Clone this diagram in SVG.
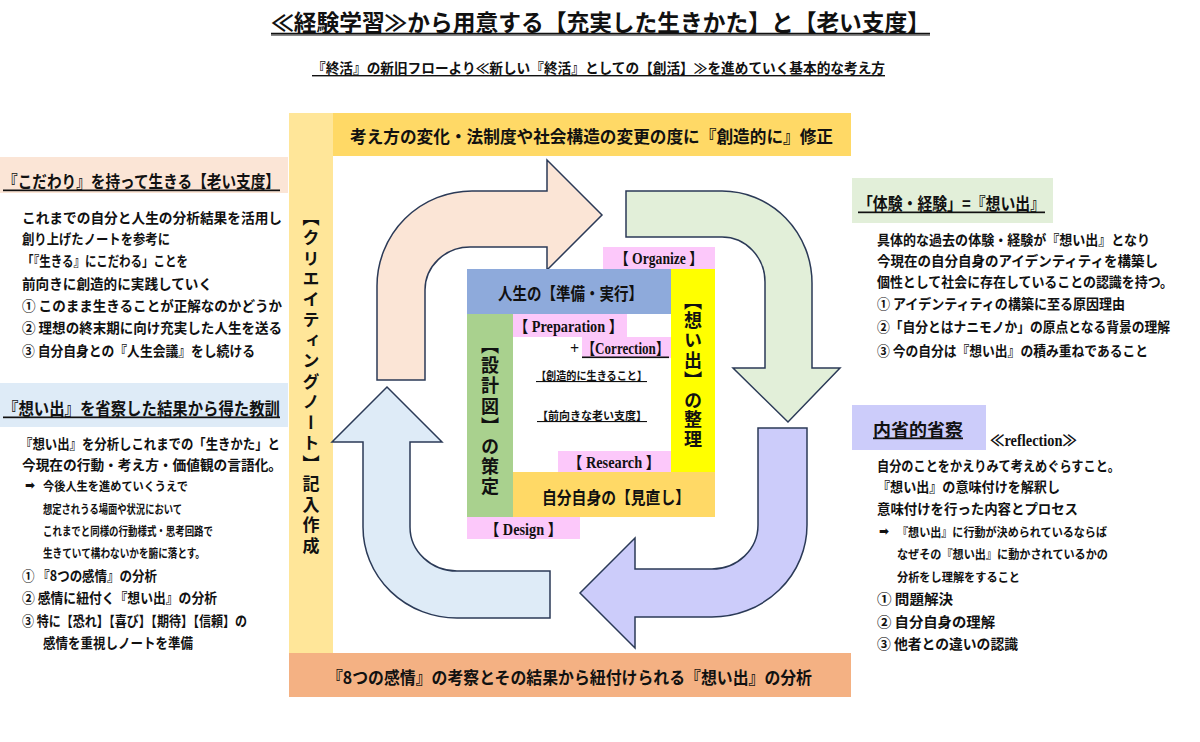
<svg xmlns="http://www.w3.org/2000/svg" width="1200" height="742" viewBox="0 0 1200 742">
<style>
text{font-family:"Noto Sans CJK JP","Noto Sans",sans-serif;fill:#111;dominant-baseline:central;font-weight:bold}
.b{font-size:14px}
.s{font-size:12px}
.h{font-size:17px;text-decoration:underline}
.lat{font-family:"Liberation Serif","Noto Sans CJK JP",serif;font-size:16px}
.v{writing-mode:vertical-rl}
.arrow{stroke:#2b3a57;stroke-width:1.5;stroke-linejoin:miter}
.pink{fill:#fcc8fa}
</style>
<rect width="1200" height="742" fill="#ffffff"/>

<g id="title">
<text x="271" y="21" font-size="23" textLength="659" lengthAdjust="spacingAndGlyphs">≪経験学習≫から用意する【充実した生きかた】と【老い支度】</text>
<line x1="271" y1="35" x2="930" y2="35" stroke="#888" stroke-width="2"/>
<line x1="271" y1="33.5" x2="930" y2="33.5" stroke="#111" stroke-width="1.5"/>
<text x="312" y="67" font-size="14" textLength="573" lengthAdjust="spacingAndGlyphs" style="text-decoration:underline">『終活』の新旧フローより≪新しい『終活』としての【創活】≫を進めていく基本的な考え方</text>
</g>

<g id="note-column">
<rect x="289" y="113" width="44" height="540" fill="#ffe699"/>
<text class="v" x="311" y="383" font-size="17" text-anchor="middle" letter-spacing="3.5">【クリエイティングノート】記入作成</text>
</g>

<g id="top-banner">
<rect x="333" y="113" width="518" height="43" fill="#ffd966"/>
<text x="350" y="135" font-size="17" textLength="483" lengthAdjust="spacingAndGlyphs">考え方の変化・法制度や社会構造の変更の度に『創造的に』修正</text>
</g>

<g id="bottom-banner">
<rect x="289" y="653" width="562" height="44" fill="#f4b183"/>
<text x="327" y="676" font-size="17" textLength="485" lengthAdjust="spacingAndGlyphs">『8つの感情』の考察とその結果から紐付けられる『想い出』の分析</text>
</g>

<g id="left-top">
<rect x="0" y="157" width="288" height="36" fill="#fbe5d6"/>
<text class="h" x="3" y="180" textLength="277" lengthAdjust="spacingAndGlyphs">『こだわり』を持って生きる【老い支度】</text>
<text class="b" x="22" y="217" textLength="260" lengthAdjust="spacingAndGlyphs">これまでの自分と人生の分析結果を活用し</text>
<text class="b" x="22" y="238" textLength="148" lengthAdjust="spacingAndGlyphs">創り上げたノートを参考に</text>
<text class="b" x="22" y="260" textLength="166" lengthAdjust="spacingAndGlyphs">「『生きる』にこだわる」ことを</text>
<text class="b" x="22" y="283" textLength="190" lengthAdjust="spacingAndGlyphs">前向きに創造的に実践していく</text>
<text class="b" x="22" y="305" textLength="260" lengthAdjust="spacingAndGlyphs">① このまま生きることが正解なのかどうか</text>
<text class="b" x="22" y="327" textLength="260" lengthAdjust="spacingAndGlyphs">② 理想の終末期に向け充実した人生を送る</text>
<text class="b" x="22" y="350" textLength="233" lengthAdjust="spacingAndGlyphs">③ 自分自身との『人生会議』をし続ける</text>
</g>

<g id="left-bottom">
<rect x="0" y="383" width="288" height="44" fill="#deebf7"/>
<text class="h" x="3" y="407" textLength="277" lengthAdjust="spacingAndGlyphs">『想い出』を省察した結果から得た教訓</text>
<text class="b" x="20" y="443" textLength="260" lengthAdjust="spacingAndGlyphs">『想い出』を分析しこれまでの「生きかた」と</text>
<text class="b" x="22" y="464" textLength="260" lengthAdjust="spacingAndGlyphs">今現在の行動・考え方・価値観の言語化。</text>
<text class="s" x="25" y="485" style="font-family:'DejaVu Sans',sans-serif">➡</text>
<text class="s" x="43" y="485" textLength="145" lengthAdjust="spacingAndGlyphs">今後人生を進めていくうえで</text>
<text class="s" x="43" y="508" textLength="139" lengthAdjust="spacingAndGlyphs">想定されうる場面や状況において</text>
<text class="s" x="43" y="530" textLength="170" lengthAdjust="spacingAndGlyphs">これまでと同様の行動様式・思考回路で</text>
<text class="s" x="43" y="552" textLength="162" lengthAdjust="spacingAndGlyphs">生きていて構わないかを腑に落とす。</text>
<text class="b" x="22" y="575" font-size="13" textLength="135" lengthAdjust="spacingAndGlyphs">① 『8つの感情』の分析</text>
<text class="b" x="22" y="597" font-size="13" textLength="195" lengthAdjust="spacingAndGlyphs">② 感情に紐付く『想い出』の分析</text>
<text class="b" x="22" y="620" font-size="13" textLength="225" lengthAdjust="spacingAndGlyphs">③ 特に【恐れ】【喜び】【期待】【信頼】の</text>
<text class="b" x="43" y="642" font-size="13" textLength="150" lengthAdjust="spacingAndGlyphs">感情を重視しノートを準備</text>
</g>

<g id="right-top">
<rect x="852" y="178" width="201" height="45" fill="#e2efd9"/>
<text class="h" x="858" y="202" textLength="187" lengthAdjust="spacingAndGlyphs">「体験・経験」=『想い出』</text>
<text class="b" x="877" y="239" textLength="273" lengthAdjust="spacingAndGlyphs">具体的な過去の体験・経験が『想い出』となり</text>
<text class="b" x="877" y="260" textLength="281" lengthAdjust="spacingAndGlyphs">今現在の自分自身のアイデンティティを構築し</text>
<text class="b" x="877" y="281" textLength="296" lengthAdjust="spacingAndGlyphs">個性として社会に存在していることの認識を持つ。</text>
<text class="b" x="877" y="303" textLength="248" lengthAdjust="spacingAndGlyphs">① アイデンティティの構築に至る原因理由</text>
<text class="b" x="877" y="326" textLength="293" lengthAdjust="spacingAndGlyphs">②「自分とはナニモノか」の原点となる背景の理解</text>
<text class="b" x="877" y="350" textLength="271" lengthAdjust="spacingAndGlyphs">③ 今の自分は『想い出』の積み重ねであること</text>
</g>

<g id="right-bottom">
<rect x="852" y="405" width="134" height="45" fill="#ccccfa"/>
<text class="h" x="873" y="428" font-size="18" textLength="90" lengthAdjust="spacingAndGlyphs">内省的省察</text>
<text class="lat" x="990" y="440" font-size="15" textLength="87" lengthAdjust="spacingAndGlyphs">≪reflection≫</text>
<text class="b" x="877" y="465" textLength="243" lengthAdjust="spacingAndGlyphs">自分のことをかえりみて考えめぐらすこと。</text>
<text class="b" x="877" y="486" textLength="183" lengthAdjust="spacingAndGlyphs">『想い出』の意味付けを解釈し</text>
<text class="b" x="877" y="508" textLength="201" lengthAdjust="spacingAndGlyphs">意味付けを行った内容とプロセス</text>
<text class="s" x="879" y="531" style="font-family:'DejaVu Sans',sans-serif">➡</text>
<text class="s" x="897" y="531" textLength="210" lengthAdjust="spacingAndGlyphs">『想い出』に行動が決められているならば</text>
<text class="s" x="897" y="553" textLength="211" lengthAdjust="spacingAndGlyphs">なぜその『想い出』に動かされているかの</text>
<text class="s" x="897" y="576" textLength="123" lengthAdjust="spacingAndGlyphs">分析をし理解をすること</text>
<text class="b" x="877" y="598" textLength="76" lengthAdjust="spacingAndGlyphs">① 問題解決</text>
<text class="b" x="877" y="621" textLength="118" lengthAdjust="spacingAndGlyphs">② 自分自身の理解</text>
<text class="b" x="877" y="643" textLength="141" lengthAdjust="spacingAndGlyphs">③ 他者との違いの認識</text>
</g>

<g id="connectors">
<path class="arrow" fill="#fbe5d6" d="M377,380 L377,286 A95,95 0 0 1 472,191 L547,191 L547,160 L602,215 L547,270 L547,247 L470,247 A45,43 0 0 0 425,290 L425,380 Z"/>
<path class="arrow" fill="#e2efd9" d="M626,191 L722,191 A90,92 0 0 1 812,283 L812,368 L840,368 L788,422 L733,368 L765,368 L765,282 A43,45 0 0 0 722,237 L626,237 Z"/>
<path class="arrow" fill="#ccccfa" d="M758,428 L807,428 L807,525 A95,92 0 0 1 712,617 L635,617 L635,648 L580,593 L635,538 L635,569 L712,569 A46,44 0 0 0 758,525 Z"/>
<path class="arrow" fill="#deebf7" d="M550,571 L550,618 L457,618 A94,91 0 0 1 363,527 L363,442 L332,442 L387,387 L442,442 L410,442 L410,527 A47,44 0 0 0 457,571 Z"/>
</g>

<g id="organize">
<rect class="pink" x="603" y="247" width="112" height="22"/>
<text class="lat" x="615" y="258" textLength="88" lengthAdjust="spacingAndGlyphs">【 Organize 】</text>
</g>
<g id="prepare-execute">
<rect x="467" y="269" width="204" height="45" fill="#8eaadb"/>
<text x="498" y="292" font-size="17" textLength="145" lengthAdjust="spacingAndGlyphs">人生の【準備・実行】</text>
</g>
<g id="memory-organize">
<rect x="671" y="269" width="44" height="203" fill="#ffff00"/>
<text class="v" x="693" y="371" font-size="18" text-anchor="middle" letter-spacing="1.8">【想い出】の整理</text>
</g>
<g id="design-plan">
<rect x="467" y="314" width="46" height="203" fill="#a9d18e"/>
<text class="v" x="490" y="417" font-size="18" text-anchor="middle" letter-spacing="2.2">【設計図】の策定</text>
</g>
<g id="self-review">
<rect x="513" y="472" width="202" height="45" fill="#ffd966"/>
<text x="542" y="496" font-size="17" textLength="148" lengthAdjust="spacingAndGlyphs">自分自身の【見直し】</text>
</g>
<g id="design">
<rect class="pink" x="467" y="517" width="113" height="22"/>
<text class="lat" x="485" y="529" textLength="77" lengthAdjust="spacingAndGlyphs">【 Design 】</text>
</g>
<g id="preparation">
<rect class="pink" x="513" y="314" width="114" height="23"/>
<text class="lat" x="514" y="326" textLength="109" lengthAdjust="spacingAndGlyphs">【 Preparation 】</text>
</g>
<g id="correction">
<rect class="pink" x="582" y="337" width="89" height="21"/>
<text class="lat" x="570" y="348" font-size="13">+</text>
<text class="lat" x="582" y="348" font-size="15" textLength="87" lengthAdjust="spacingAndGlyphs" style="text-decoration:underline">【Correction】</text>
</g>
<g id="research">
<rect class="pink" x="558" y="451" width="113" height="21"/>
<text class="lat" x="568" y="462" textLength="92" lengthAdjust="spacingAndGlyphs">【 Research 】</text>
</g>
<g id="center-notes">
<text x="536" y="375" font-size="11" textLength="111" lengthAdjust="spacingAndGlyphs" style="text-decoration:underline">【創造的に生きること】</text>
<text x="537" y="415" font-size="11" textLength="110" lengthAdjust="spacingAndGlyphs" style="text-decoration:underline">【前向きな老い支度】</text>
</g>
</svg>
